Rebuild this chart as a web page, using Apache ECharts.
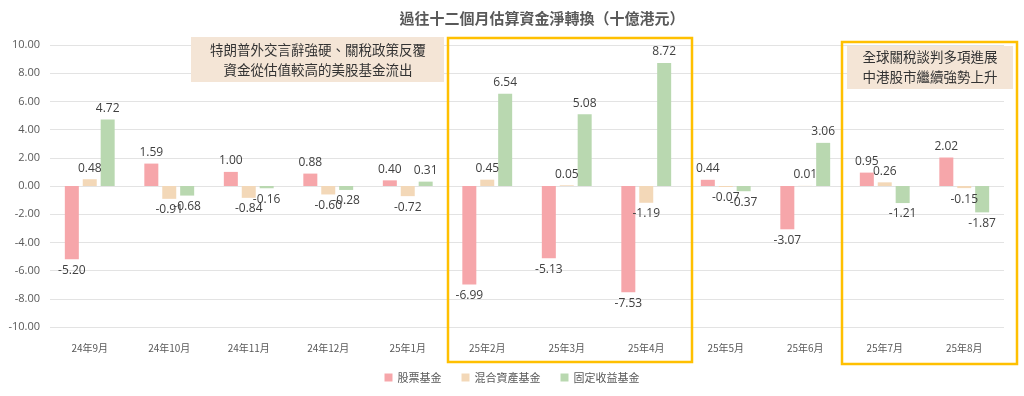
<!DOCTYPE html>
<html><head><meta charset="utf-8">
<script src="https://cdn.jsdelivr.net/npm/echarts@6/dist/echarts.min.js"></script>
<style>html,body{margin:0;padding:0;background:#fff}#c{width:1024px;height:396px}</style>
</head><body><div id="c"></div>
<script>
const categories = ['24年9月','24年10月','24年11月','24年12月','25年1月','25年2月','25年3月','25年4月','25年5月','25年6月','25年7月','25年8月'];
const equity = [-5.20, 1.59, 1.00, 0.88, 0.40, -6.99, -5.13, -7.53, 0.44, -3.07, 0.95, 2.02];
const mixed = [0.48, -0.91, -0.84, -0.60, -0.72, 0.45, 0.05, -1.19, -0.07, 0.01, 0.26, -0.15];
const fixedIncome = [4.72, -0.68, -0.16, -0.28, 0.31, 6.54, 5.08, 8.72, -0.37, 3.06, -1.21, -1.87];
const seriesNames = ['股票基金','混合資產基金','固定收益基金'];
const yTicks = { min: -10, max: 10, interval: 2 };
const titleText = '過往十二個月估算資金淨轉換（十億港元）';
const note1 = ['特朗普外交言辭強硬、關稅政策反覆','資金從估值較高的美股基金流出'];
const note2 = ['全球關稅談判多項進展','中港股市繼續強勢上升'];

const colors = ['#F6A6AA','#F3D8B8','#B9D8B0'];
const font = '"Noto Sans CJK TC", "Noto Sans", sans-serif';

function mkSeries(name, data, color) {
  return {
    name, type: 'bar', barWidth: 14, barGap: '28%',
    itemStyle: { color },
    data: data.map(v => ({
      value: v,
      label: { position: v >= 0 ? 'top' : 'bottom' }
    })),
    label: {
      show: true, color: '#404040', fontSize: 12, fontFamily: '"Open Sans", "Noto Sans", sans-serif',
      distance: 5,
      formatter: p => p.value.toFixed(2)
    }
  };
}

const chart = echarts.init(document.getElementById('c'));
chart.setOption({
  animation: false,
  title: { text: titleText, left: 537, top: 6, textAlign: 'center',
    textStyle: { fontSize: 15, fontWeight: 'bold', color: '#595959', fontFamily: font } },
  grid: { left: 50, right: 20, top: 45, bottom: 69 },
  legend: { data: seriesNames, bottom: 8, left: 'center', itemWidth: 8, itemHeight: 8, itemGap: 20,
    icon: 'rect', textStyle: { fontSize: 11, color: '#595959', fontFamily: font } },
  xAxis: { type: 'category', data: categories, position: 'bottom',
    axisLine: { show: false }, axisTick: { show: false },
    axisLabel: { color: '#595959', fontSize: 10, fontFamily: font, margin: 16 } },
  yAxis: { type: 'value', min: yTicks.min, max: yTicks.max, interval: yTicks.interval,
    axisLabel: { color: '#595959', fontSize: 11, fontFamily: '"Open Sans", "Noto Sans", sans-serif', formatter: v => v.toFixed(2), margin: 10 },
    splitLine: { lineStyle: { color: '#E3E3E3' } }, axisLine: { show: false } },
  series: [
    mkSeries(seriesNames[0], equity, colors[0]),
    mkSeries(seriesNames[1], mixed, colors[1]),
    mkSeries(seriesNames[2], fixedIncome, colors[2])
  ],
  graphic: [
    { type: 'rect', shape: { x: 191, y: 37, width: 253, height: 45 }, style: { fill: '#F4E5D6' }, z: 10 },
    { type: 'text', x: 318, y: 50, style: { text: note1[0], fill: '#333', fontSize: 13.5, fontFamily: font, textAlign: 'center', textVerticalAlign: 'middle' }, z: 11 },
    { type: 'text', x: 318, y: 70, style: { text: note1[1], fill: '#333', fontSize: 13.5, fontFamily: font, textAlign: 'center', textVerticalAlign: 'middle' }, z: 11 },
    { type: 'rect', shape: { x: 448, y: 38, width: 244, height: 324 }, style: { fill: 'none', stroke: '#FFC000', lineWidth: 2.5 }, z: 10 },
    { type: 'rect', shape: { x: 842, y: 42, width: 175, height: 322 }, style: { fill: 'none', stroke: '#FFC000', lineWidth: 2.5 }, z: 10 },
    { type: 'rect', shape: { x: 847, y: 46, width: 166, height: 43 }, style: { fill: '#F4E5D6' }, z: 10 },
    { type: 'text', x: 930, y: 57, style: { text: note2[0], fill: '#333', fontSize: 13.5, fontFamily: font, textAlign: 'center', textVerticalAlign: 'middle' }, z: 11 },
    { type: 'text', x: 930, y: 77, style: { text: note2[1], fill: '#333', fontSize: 13.5, fontFamily: font, textAlign: 'center', textVerticalAlign: 'middle' }, z: 11 }
  ]
});
</script></body></html>
